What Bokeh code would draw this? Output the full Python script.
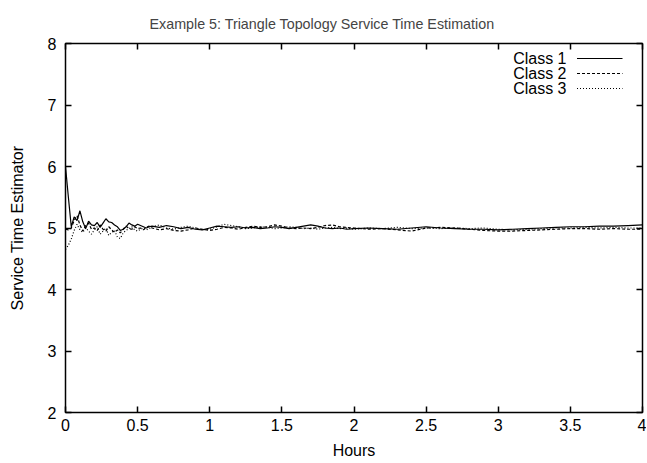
from bokeh.plotting import figure
from bokeh.models import (Range1d, FixedTicker, LinearAxis, Label, Title, Arrow,
                          CustomLabelingPolicy)
from bokeh.embed import file_html
from bokeh.resources import INLINE

# ---------------- data ----------------
hours = [0.00, 0.02, 0.04, 0.06, 0.08, 0.10, 0.12, 0.14, 0.16, 0.18,
         0.20, 0.22, 0.24, 0.26, 0.28, 0.30, 0.32, 0.34, 0.36, 0.38,
         0.40, 0.42, 0.44, 0.46, 0.48, 0.50, 0.52, 0.54, 0.56, 0.58, 0.60,
         0.65, 0.70, 0.75, 0.80, 0.85, 0.90, 0.95, 1.00, 1.05, 1.10,
         1.15, 1.20, 1.25, 1.30, 1.35, 1.40, 1.45, 1.50, 1.55, 1.60,
         1.65, 1.70, 1.75, 1.80, 1.85, 1.90, 1.95, 2.00,
         2.1, 2.2, 2.3, 2.4, 2.5, 2.6, 2.7, 2.8, 2.9, 3.0,
         3.1, 3.2, 3.3, 3.4, 3.5, 3.6, 3.7, 3.8, 3.9, 4.0]

class1 = [6.00, 5.50, 5.02, 5.18, 5.12, 5.28, 5.10, 4.99, 5.11, 5.05,
          5.04, 5.09, 5.01, 5.08, 5.15, 5.10, 5.09, 5.05, 5.02, 4.96,
          4.98, 5.02, 5.08, 5.05, 5.03, 5.06, 5.04, 5.02, 5.00, 5.02, 5.03,
          5.01, 5.04, 5.02, 4.99, 5.01, 4.98, 4.97, 5.00, 5.03, 5.02,
          5.01, 5.02, 5.00, 5.01, 4.99, 5.00, 5.02, 5.01, 4.99, 5.01,
          5.03, 5.05, 5.03, 5.00, 4.99, 5.00, 4.98, 4.99,
          5.00, 4.99, 4.98, 5.00, 5.02, 5.00, 4.99, 4.98, 4.98, 4.97,
          4.98, 4.99, 5.00, 5.01, 5.02, 5.02, 5.03, 5.03, 5.04, 5.05]

class2 = [4.98, 4.97, 5.00, 5.12, 5.20, 5.05, 4.95, 5.04, 5.08, 4.98,
          5.00, 4.96, 5.05, 4.98, 4.95, 5.02, 4.97, 4.93, 4.97, 4.92,
          4.98, 5.03, 4.99, 4.98, 5.02, 4.99, 5.00, 4.97, 5.01, 5.03, 5.00,
          4.97, 4.99, 4.96, 4.95, 4.97, 5.00, 4.98, 4.96, 4.98, 5.01,
          5.00, 4.98, 5.01, 5.03, 5.01, 5.02, 5.05, 5.03, 5.00, 4.99,
          5.00, 4.99, 5.01, 5.04, 5.05, 5.02, 5.01, 5.00,
          4.98, 4.99, 4.97, 4.95, 5.00, 5.01, 5.00, 4.98, 4.96, 4.95,
          4.95, 4.96, 4.97, 4.98, 4.99, 4.99, 4.98, 4.99, 4.98, 4.98]

class3 = [4.65, 4.72, 4.82, 4.96, 5.06, 4.97, 4.93, 5.00, 4.95, 4.90,
          4.97, 5.02, 4.90, 4.95, 5.00, 4.88, 4.93, 4.96, 4.85, 4.83,
          4.92, 4.96, 4.99, 5.02, 4.97, 4.95, 4.98, 5.00, 4.97, 4.99, 5.02,
          5.05, 5.00, 4.98, 5.01, 5.03, 5.00, 4.97, 4.98, 5.02, 5.06,
          5.04, 5.02, 4.99, 5.00, 5.02, 5.01, 4.99, 5.00, 5.02, 5.01,
          4.99, 5.00, 4.98, 5.00, 5.01, 4.99, 5.00, 4.98,
          5.00, 4.99, 5.01, 4.99, 5.00, 4.99, 5.00, 4.99, 5.00, 4.98,
          4.97, 4.98, 4.99, 5.00, 5.00, 5.01, 5.00, 5.01, 5.00, 5.00]

series_names = ["Class 1", "Class 2", "Class 3"]
series_dash = ["solid", "3 2", "1 2"]
x_ticks = [0, 0.5, 1, 1.5, 2, 2.5, 3, 3.5, 4]
x_tick_labels = ["0", "0.5", "1", "1.5", "2", "2.5", "3", "3.5", "4"]
y_ticks = [2, 3, 4, 5, 6, 7, 8]
y_tick_labels = ["2", "3", "4", "5", "6", "7", "8"]

# ---------------- figure ----------------
FONT = "Liberation Sans"
FS = "16px"

p = figure(width=646, height=463, x_range=Range1d(0, 4), y_range=Range1d(2, 8),
           output_backend="svg", toolbar_location=None,
           min_border_left=65, min_border_right=4, min_border_top=43, min_border_bottom=51)
p.title = Title(text="Example 5: Triangle Topology Service Time Estimation",
                align="left", offset=84, text_font=FONT, text_font_size="14.3px",
                text_font_style="normal", standoff=23)

p.xgrid.grid_line_color = None
p.ygrid.grid_line_color = None
p.outline_line_color = "black"
p.outline_line_width = 1.5
p.outline_line_alpha = 1.0
p.background_fill_color = "white"
p.border_fill_color = "white"

hide_all = CustomLabelingPolicy(code="""
    for (const i of indices) { indices.unset(i) }
    return indices
""")

def style_axis(ax, ticks, labels, show_labels):
    ax.ticker = FixedTicker(ticks=ticks)
    ax.major_label_overrides = {t: l for t, l in zip(ticks, labels)}
    ax.major_tick_in = 6
    ax.major_tick_out = 0
    ax.major_tick_line_width = 1.5
    ax.major_tick_line_color = "black"
    ax.minor_tick_line_color = None
    ax.axis_line_color = None
    ax.major_label_text_font = FONT
    ax.major_label_text_color = "black"
    ax.axis_label_text_font = FONT
    ax.axis_label_text_font_size = FS
    ax.axis_label_text_font_style = "normal"
    ax.axis_label_text_color = "black"
    if show_labels:
        ax.major_label_text_font_size = FS
    else:
        ax.major_label_text_font_size = "0px"
        ax.major_label_standoff = 0
        ax.major_label_policy = hide_all

xa = p.xaxis[0]
ya = p.yaxis[0]
style_axis(xa, x_ticks, x_tick_labels, True)
style_axis(ya, y_ticks, y_tick_labels, True)
xa.axis_label = "Hours"
ya.axis_label = "Service Time Estimator"
xa.major_label_standoff = 6
ya.major_label_standoff = 9
xa.axis_label_standoff = 8
ya.axis_label_standoff = 19

ra = LinearAxis()
style_axis(ra, y_ticks, y_tick_labels, False)
p.add_layout(ra, "right")
ta = LinearAxis()
style_axis(ta, x_ticks, x_tick_labels, False)
p.add_layout(ta, "above")

for ys, dash in zip((class1, class2, class3), series_dash):
    p.line(hours, ys, line_color="black", line_width=1.2, line_dash=dash)

# legend: text right-aligned, sample line to the right (gnuplot style)
row_y = [354, 339, 324]
for name, dash, yy in zip(series_names, series_dash, row_y):
    p.add_layout(Label(x=501, y=yy, x_units="screen", y_units="screen", text=name,
                       text_align="right", text_baseline="middle",
                       text_font=FONT, text_font_size=FS, text_color="black"))
    p.add_layout(Arrow(x_start=511.5, y_start=yy, x_end=557, y_end=yy,
                       start_units="screen", end_units="screen", start=None, end=None,
                       line_color="black", line_width=1.2, line_dash=dash))

open("out.html", "w").write(file_html(p, INLINE))
